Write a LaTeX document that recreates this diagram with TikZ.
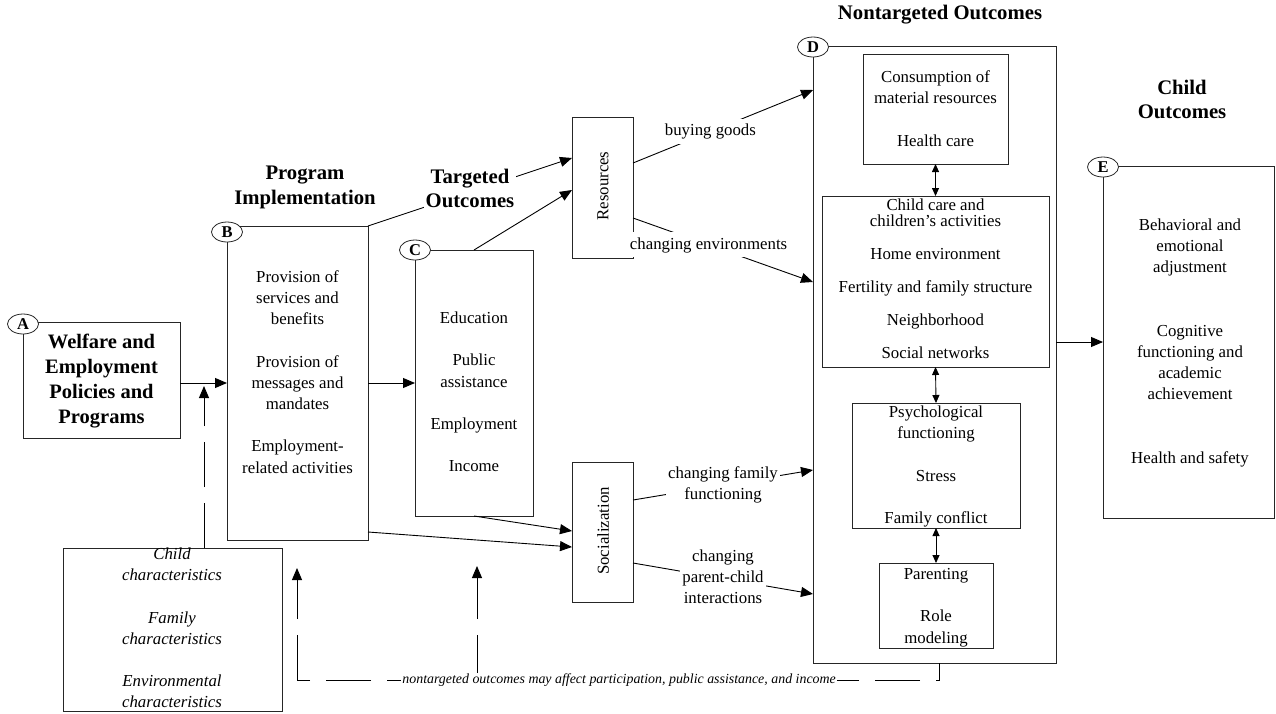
\documentclass[tikz,border=0pt]{standalone}
\usepackage{fontspec}
\setmainfont{Liberation Serif}
\usetikzlibrary{arrows.meta,shapes.geometric,calc}
\newcommand\nf{\fontsize{16.8}{21.2}\selectfont}
\newcommand\ttlfont{\fontsize{20.7}{24.5}\selectfont\bfseries}
\begin{document}
\begin{tikzpicture}[x=1pt,y=-1pt,
 box/.style={draw=black!85, line width=0.9pt, rectangle, inner sep=0pt, outer sep=0pt},
 txt/.style={align=center, font=\nf, inner sep=0pt},
 ttl/.style={align=center, font=\ttlfont, inner sep=0pt},
 lbl/.style={draw=black!85, line width=0.8pt, fill=white, ellipse, minimum width=31pt, minimum height=20pt, inner sep=0pt, font=\fontsize{16.5}{16.5}\selectfont\bfseries},
 arr/.style={line width=0.9pt, -{Triangle[length=12pt,width=10pt]}},
 darr/.style={line width=0.9pt, {Triangle[length=8pt,width=7pt]}-{Triangle[length=8pt,width=7pt]}},
 fb/.style={line width=0.9pt, dash pattern=on 45pt off 16pt},
 elbl/.style={align=center, font=\nf, fill=white, inner sep=2pt}
]
\useasboundingbox (0,0) rectangle (1276,713);

% boxes
\node[box, minimum width=157pt, minimum height=116pt] (A) at (101.5,380) {};
\node[box, minimum width=141pt, minimum height=314pt] (B) at (297.5,383) {};
\node[box, minimum width=118pt, minimum height=266pt] (C) at (474,383) {};
\node[box, minimum width=61pt, minimum height=141pt] (Res) at (602.5,187.5) {};
\node[box, minimum width=61pt, minimum height=140pt] (Soc) at (602.5,532) {};
\node[box, minimum width=243pt, minimum height=617pt] (D) at (934.5,354.5) {};
\node[box, minimum width=145pt, minimum height=110pt] (D1) at (935.5,109) {};
\node[box, minimum width=227pt, minimum height=171pt] (D2) at (935.5,281.5) {};
\node[box, minimum width=168pt, minimum height=125pt] (D3) at (936,465.5) {};
\node[box, minimum width=114pt, minimum height=85pt] (D4) at (936,605.5) {};
\node[box, minimum width=171pt, minimum height=352pt] (E) at (1188.5,342) {};
\node[box, minimum width=219pt, minimum height=163pt] (Ch) at (172.5,629.5) {};

% texts
\node[align=center, inner sep=0pt, font=\fontsize{20.5}{25}\selectfont\bfseries] (tA) at (101.5,380.5)
 {\strut Welfare and\\Employment\\Policies and\\Programs\strut};
\node[txt] (tB) at (297.5,373.5) {\strut Provision of\\services and\\benefits\\[21.2pt]Provision of\\messages and\\mandates\\[21.2pt]Employment-\\related activities\strut};
\node[txt] (tC) at (474,393.5) {\strut Education\\[21.2pt]Public\\assistance\\[21.2pt]Employment\\[21.2pt]Income\strut};
\node[txt, rotate=90] (tRes) at (603,186) {Resources};
\node[txt, rotate=90] (tSoc) at (603,531) {Socialization};
\node[txt] (tD1) at (935.5,110) {\strut Consumption of\\material resources\\[21.2pt]Health care\strut};
\node[txt] (tD2) at (935.5,280.5) {\strut Child care and\\[-5.2pt]children's activities\\[11.8pt]Home environment\\[11.8pt]Fertility and family structure\\[11.8pt]Neighborhood\\[11.8pt]Social networks\strut};
\node[txt] (tD3) at (936,466.5) {\strut Psychological\\functioning\\[21.2pt]Stress\\[21.2pt]Family conflict\strut};
\node[txt] (tD4) at (936,607) {\strut Parenting\\[21.2pt]Role\\modeling\strut};
\node[txt] (tE) at (1190,342.5) {\strut Behavioral and\\emotional\\adjustment\\[42.4pt]Cognitive\\functioning and\\academic\\achievement\\[42.4pt]Health and safety\strut};
\node[txt, font=\nf\itshape] (tCh) at (172,629.5) {\strut Child\\characteristics\\[21.2pt]Family\\characteristics\\[21.2pt]Environmental\\characteristics\strut};

% titles
\node[ttl] (tiB) at (305,187) {\strut Program\\Implementation\strut};
\node[ttl] (tiD) at (940,15) {\strut Nontargeted Outcomes\strut};
\node[ttl] (tiE) at (1182,101.5) {\strut Child\\Outcomes\strut};

% connectors
\draw[arr] (A.east |- B.west) -- (B.west);
\draw[arr] (B.east) -- (C.west);
\draw[arr] (B.north east) -- ([yshift=-41pt]Res.north west);
\node[ttl, fill=white, inner sep=2pt] (tiC) at (470,190.5) {\strut Targeted\\Outcomes\strut};
\draw[arr] (C.north) -- ([yshift=-73pt]Res.north west);
\draw[arr] (C.south) -- ([yshift=-69pt]Soc.north west);
\draw[arr] ([yshift=8pt]B.south east) -- ([yshift=-85pt]Soc.north west);
\draw[arr] ([yshift=-46pt]Res.north east) -- node[elbl, pos=0.43] (l1) {\strut buying goods\strut} ([yshift=-44pt]D.north west);
\draw[arr] ([yshift=-101pt]Res.north east) -- node[elbl, pos=0.42] (l2) {\strut changing environments\strut} ([yshift=-236pt]D.north west);
\draw[arr] ([yshift=-38pt]Soc.north east) -- node[elbl, pos=0.5] (l3) {\strut changing family\\functioning\strut} ([yshift=-424pt]D.north west);
\draw[arr] ([yshift=-101pt]Soc.north east) -- node[elbl, pos=0.5] (l4) {\strut changing\\parent-child\\interactions\strut} ([yshift=-548pt]D.north west);
\draw[arr] (D.east |- E.west) -- (E.west);
\draw[darr] (D1.south) -- (D2.north);
\draw[darr] (D2.south) -- (D3.north);
\draw[darr] (D3.south) -- (D4.north);

% dashed feedback
\coordinate (j1) at (204,386);
\draw[fb, arr] (Ch.north -| j1) -- (j1);
\coordinate (fbR) at (939,680);
\coordinate (fbL) at (297,680);
\coordinate (fbT1) at (297,568);
\coordinate (fbM) at (477,680);
\coordinate (fbT2) at (477,566);
\draw[fb, dash phase=25pt] (D.south -| fbR) -- (fbR) -- (fbL);
\draw[fb, arr] (fbL) -- (fbT1);
\draw[fb, arr] (fbM) -- (fbT2);
\node[font=\fontsize{13.9}{16}\selectfont\itshape, fill=white, inner sep=1pt, anchor=east] (tfb) at (837,680) {nontargeted outcomes may affect participation, public assistance, and income};

% circle labels
\node[lbl] (cA) at (23,324) {A};
\node[lbl] (cB) at (227,232) {B};
\node[lbl] (cC) at (415,250) {C};
\node[lbl] (cD) at (813,47) {D};
\node[lbl] (cE) at (1103,167) {E};
\end{tikzpicture}
\end{document}
